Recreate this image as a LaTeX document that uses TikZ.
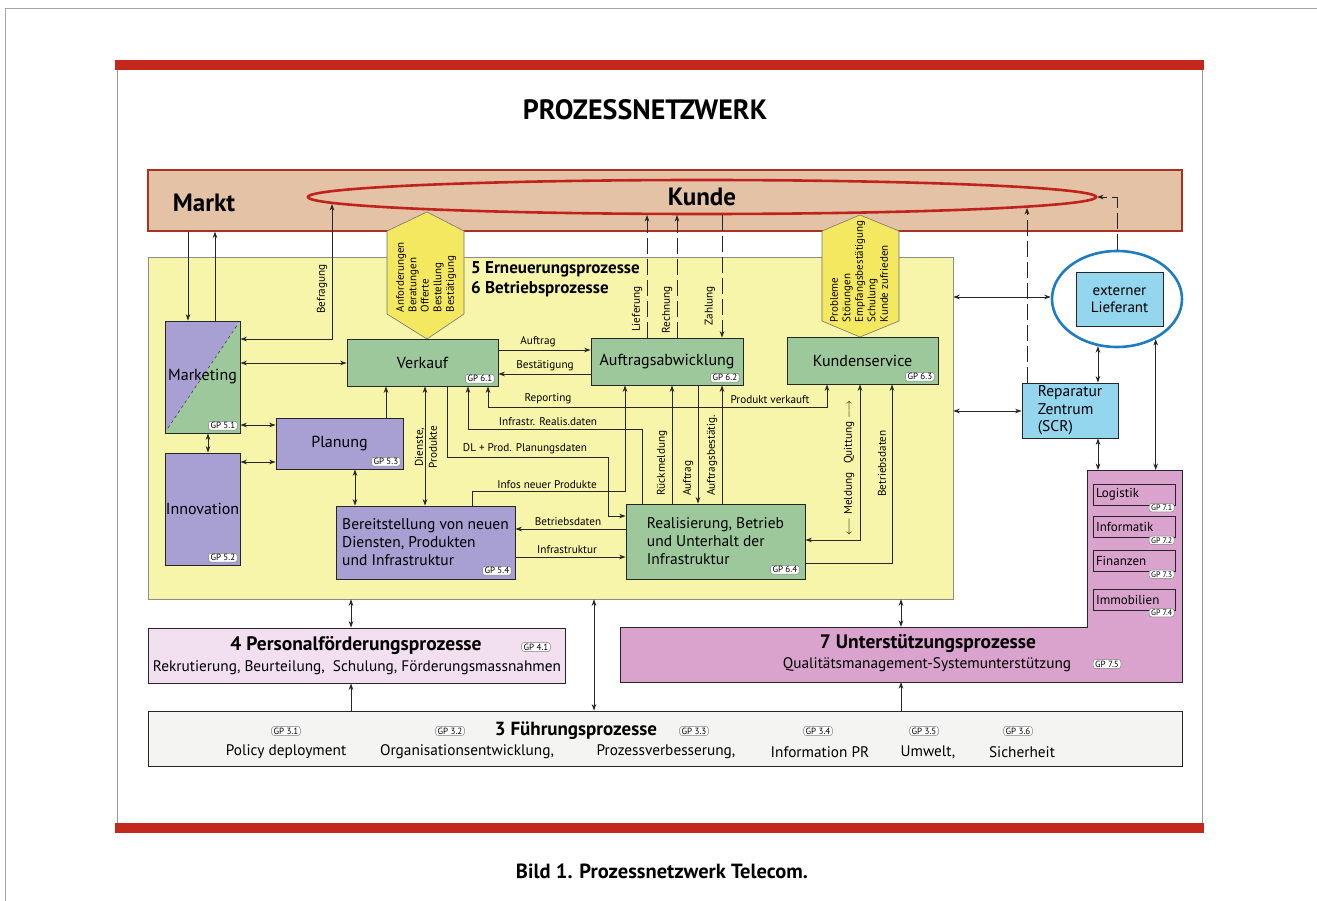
\documentclass[tikz,border=0pt]{standalone}
\usepackage{fontspec}
\setmainfont{PT Sans}
\usetikzlibrary{arrows.meta,shapes.geometric}
\definecolor{redbar}{HTML}{C4281C}
\definecolor{bandfill}{HTML}{E4C2A6}
\definecolor{bandline}{HTML}{A8321F}
\definecolor{ellred}{HTML}{C0231B}
\definecolor{yelfill}{HTML}{F7F5A9}
\definecolor{hexfill}{HTML}{F4E860}
\definecolor{grn}{HTML}{9DC89B}
\definecolor{pur}{HTML}{A8A0D3}
\definecolor{blu}{HTML}{93D6EE}
\definecolor{blring}{HTML}{1E7DC2}
\definecolor{pinkf}{HTML}{D9A3CD}
\definecolor{lpink}{HTML}{F2DFF0}
\definecolor{fgray}{HTML}{F4F4F2}
\newcommand\bxfont{\fontsize{16}{18.5}\selectfont}
\newcommand\lblfont{\fontsize{11.2}{13}\selectfont}
\newcommand\gpfont{\fontsize{9}{10}\selectfont}
\newcommand\hdfont{\bfseries\fontsize{19.5}{23}\selectfont}
\begin{document}
\begin{tikzpicture}[x=1pt,y=-1pt,
  boxline/.style={draw=black!85, line width=0.9pt},
  box/.style={boxline, inner sep=0pt, font=\bxfont, align=center},
  lbl/.style={font=\lblfont, inner sep=1pt},
  hextxt/.style={font=\fontsize{11}{12.5}\selectfont, inner sep=0.5pt, align=left},
  gp/.style={draw=black!50, fill=white, rounded corners=2.5pt, font=\gpfont, inner xsep=2pt, inner ysep=1.2pt, line width=0.5pt},
  ln/.style={draw=black!85, line width=0.75pt},
  arr/.style={ln, -{Stealth[length=6.5pt,width=4.6pt]}},
  darr/.style={ln, {Stealth[length=6.5pt,width=4.6pt]}-{Stealth[length=6.5pt,width=4.6pt]}},
  dsh/.style={dash pattern=on 16pt off 5pt},
  ]
\useasboundingbox (0,0) rectangle (1317,901);
\fill[white] (0,0) rectangle (1317,901);
\draw[black!35, line width=0.6pt] (5,901) -- (5,8) -- (1317,8);
\fill[redbar] (115,60) rectangle (1204,70);
\fill[redbar] (115,823) rectangle (1204,833);
\draw[black!40, line width=0.5pt] (117,70) -- (117,823) (1202,70) -- (1202,823);

\node[font=\bfseries\fontsize{28}{32}\selectfont] (title) at (645,110) {PROZESSNETZWERK};

% Markt / Kunde band
\node[draw=bandline, line width=1.2pt, fill=bandfill, minimum width=1034pt, minimum height=61pt, inner sep=0] (band) at (665,200.5) {};
\node[font=\bfseries\fontsize{25}{29}\selectfont] (markt) at (204,203) {Markt};

% yellow area
\node[draw=black!45, line width=0.6pt, fill=yelfill, minimum width=805pt, minimum height=342pt, inner sep=0] (yel) at (550.5,428) {};

% hexagons
\draw[draw=black!55, line width=0.6pt, fill=hexfill] (427,212) -- (464,231) -- (464,314) -- (427,339) -- (387,314) -- (387,231) -- cycle;
\draw[draw=black!55, line width=0.6pt, fill=hexfill] (860,215) -- (899,231) -- (899,321) -- (860,337) -- (822,321) -- (822,231) -- cycle;
\node[hextxt, rotate=90, anchor=west] (hex1t) at (426,313) {Anforderungen\\Beratungen\\Offerte\\Bestellung\\Bestätigung};
\node[hextxt, rotate=90, anchor=west] (hex2t) at (859,323) {Probleme\\Störungen\\Empfangsbestätigung\\Schulung\\Kunde zufrieden};

% Kunde ellipse
\node[draw=ellred, line width=2.6pt, ellipse, minimum width=788pt, minimum height=34pt, inner sep=0, font=\bfseries\fontsize{25}{29}\selectfont] (kunde) at (702,197) {Kunde};
\coordinate (kBef) at (332,204);
\coordinate (kLief) at (647,215);
\coordinate (kRech) at (677,215);
\coordinate (kZahl) at (722,215);
\coordinate (kRep) at (1027,208);
\coordinate (kTip) at (1097,197);

\node[font=\bfseries\fontsize{17}{19.5}\selectfont, align=left, anchor=west, inner sep=0] (prozT) at (471,279.5) {5 Erneuerungsprozesse\\6 Betriebsprozesse};

% Marketing (split)
\fill[pur] (165,321) -- (240,321) -- (165,433) -- cycle;
\fill[grn] (240,321) -- (240,433) -- (165,433) -- cycle;
\draw[black!75, dashed, line width=0.6pt] (168,428) -- (238,324);
\node[box, minimum width=75pt, minimum height=112pt] (mkt) at (202.5,377) {Marketing};
\node[box, fill=pur, minimum width=75pt, minimum height=112pt] (inno) at (202.5,509) {Innovation};
\node[box, fill=pur, minimum width=127pt, minimum height=51pt] (plan) at (339.5,443.5) {Planung};
\node[box, fill=grn, minimum width=151pt, minimum height=47pt] (verkauf) at (422.5,362.5) {Verkauf};
\node[box, fill=grn, minimum width=152pt, minimum height=47pt] (auftr) at (667,361.5) {Auftragsabwicklung};
\node[box, fill=grn, minimum width=151pt, minimum height=47pt] (ksv) at (862.5,360.5) {Kundenservice};
\node[box, fill=pur, minimum width=179pt, minimum height=73pt, align=left, font=\fontsize{15.5}{18}\selectfont] (bereit) at (425.5,542.5) {Bereitstellung von neuen\\Diensten, Produkten\\und Infrastruktur};
\node[box, fill=grn, minimum width=179pt, minimum height=75pt, align=left, font=\fontsize{15.5}{18}\selectfont] (real) at (715.5,541.5) {Realisierung, Betrieb\\und Unterhalt der\\Infrastruktur};

% right side
\node[box, fill=blu, minimum width=87pt, minimum height=54pt, font=\fontsize{15}{17}\selectfont] (lief) at (1119.5,299) {externer\\Lieferant};
\node[draw=blring, line width=2.6pt, ellipse, minimum width=130pt, minimum height=96pt, inner sep=0] (liefring) at (1117,299) {};
\node[box, fill=blu, minimum width=96pt, minimum height=55pt, align=left, font=\fontsize{15.5}{17.5}\selectfont] (rep) at (1070,410.5) {Reparatur\\Zentrum\\(SCR)};

% GP 7 L-shape
\draw[boxline, fill=pinkf] (620,627) -- (1087,627) -- (1087,470) -- (1182,470) -- (1182,682) -- (620,682) -- cycle;
\coordinate (gp7n) at (1134,470);
\node[minimum width=562pt, minimum height=55pt, inner sep=0] (unt) at (901,654.5) {};
\node[font=\hdfont] (untT) at (928,644) {7 Unterstützungsprozesse};
\node[font=\fontsize{15.3}{17}\selectfont] (untS) at (927,665) {Qualitätsmanagement-Systemunterstützung};
\node[gp] (gp75) at (1107,664) {GP 7.5};
\foreach \nm/\yy/\tx/\g in {logi/494.5/Logistik/7.1, info/527/Informatik/7.2, fin/561/Finanzen/7.3, immo/599.5/Immobilien/7.4}{
  \node[boxline, line width=0.8pt, minimum width=82pt, minimum height=21pt, text width=76pt, inner xsep=3pt, inner ysep=0pt, align=left, font=\fontsize{13}{15}\selectfont] (\nm) at (1134,\yy) {\tx};
  \node[gp, anchor=north east, font=\fontsize{8}{9}\selectfont] (\nm gp) at ([xshift=-1pt,yshift=2pt]\nm.south east) {GP \g};
}

% Personal
\node[boxline, fill=lpink, minimum width=417pt, minimum height=55pt, inner sep=0] (pers) at (356.5,655.5) {};
\node[font=\hdfont] (persT) at (356,646) {4 Personalförderungsprozesse};
\node[font=\fontsize{15.3}{17}\selectfont] (persS) at (357,668) {Rekrutierung, Beurteilung,\ \ Schulung, Förderungsmassnahmen};
\node[gp] (gp41) at (536,647) {GP 4.1};

% Fuehrung
\node[boxline, fill=fgray, minimum width=1034pt, minimum height=55pt, inner sep=0] (fuehr) at (665,738.5) {};
\node[font=\bfseries\fontsize{19}{23}\selectfont] (fuehrT) at (576,731) {3 Führungsprozesse};
\foreach \nm/\xx/\g in {f1/286/3.1, f2/450/3.2, f3/694/3.3, f4/818/3.4, f5/924/3.5, f6/1018/3.6}{
  \node[gp] (\nm gp) at (\xx,731) {GP \g};
}
\foreach \nm/\xx/\tx in {i1/286/Policy deployment, i2/467/{Organisationsentwicklung,}, i3/666/{Prozessverbesserung,}, i4/820/Information PR, i5/928/{Umwelt,}, i6/1022/Sicherheit}{
  \node[font=\fontsize{15.3}{17}\selectfont] (\nm) at (\xx,752) {\tx};
}

% GP tags inside boxes
\node[gp, anchor=south east] (gp51) at ([xshift=-3pt,yshift=3pt]mkt.south east) {GP 5.1};
\node[gp, anchor=south east] (gp52) at ([xshift=-3pt,yshift=3pt]inno.south east) {GP 5.2};
\node[gp, anchor=south east] (gp53) at ([xshift=-3pt,yshift=3pt]plan.south east) {GP 5.3};
\node[gp, anchor=south east] (gp54) at ([xshift=-4pt,yshift=4pt]bereit.south east) {GP 5.4};
\node[gp, anchor=south east] (gp61) at ([xshift=-4pt,yshift=3pt]verkauf.south east) {GP 6.1};
\node[gp, anchor=south east] (gp62) at ([xshift=-4pt,yshift=3pt]auftr.south east) {GP 6.2};
\node[gp, anchor=south east] (gp63) at ([xshift=-4pt,yshift=3pt]ksv.south east) {GP 6.3};
\node[gp, anchor=south east] (gp64) at ([xshift=-6pt,yshift=5pt]real.south east) {GP 6.4};

% ---------- connectors ----------
% Markt <-> Marketing
\draw[arr] (band.south -| 188,0) -- (mkt.north -| 188,0);
\draw[arr] (mkt.north -| 215,0) -- (band.south -| 215,0);
% Befragung
\draw[darr] (kBef) |- (mkt.east |- 0,339);
\node[lbl, rotate=90] (tBefr) at (322,289) {Befragung};
% Marketing links
\draw[darr] (mkt.east |- 0,363) -- (verkauf.west |- 0,363);
\draw[darr] (mkt.east |- 0,425) -- (plan.west |- 0,425);
\draw[darr] (inno.east |- 0,462) -- (plan.west |- 0,462);
\draw[darr] (mkt.south -| 208,0) -- (inno.north -| 208,0);
% Planung
\draw[arr] (plan.north -| 386,0) -- (verkauf.south -| 386,0);
\draw[darr] (plan.south -| 355,0) -- (bereit.north -| 355,0);
% Dienste, Produkte
\draw[darr] (verkauf.south -| 425,0) -- (bereit.north -| 425,0);
\node[lbl, rotate=90, align=center, font=\fontsize{11.2}{14}\selectfont] (tDP) at (426,447) {Dienste,\\Produkte};
% Verkauf <-> Auftragsabwicklung
\draw[arr] (verkauf.east |- 0,350) -- (auftr.west |- 0,350);
\node[lbl, anchor=south] (tAuf1) at (538,348) {Auftrag};
\draw[arr] (auftr.west |- 0,374) -- (verkauf.east |- 0,374);
\node[lbl, anchor=south] (tBest) at (545,372) {Bestätigung};
% Reporting / Produkt verkauft
\draw[darr] (verkauf.south -| 488,0) -- ++(0,21) -| (ksv.south -| 827,0);
\node[lbl, anchor=south] (tRep) at (548,405) {Reporting};
\node[lbl, anchor=south] (tPV) at (770,405) {Produkt verkauft};
% Infrastr. Realis.daten
\draw[arr] (real.north -| 642,0) |- (468,429) -- (verkauf.south -| 468,0);
\node[lbl, anchor=south] (tIRd) at (548,427) {Infrastr. Realis.daten};
% DL + Prod. Planungsdaten
\draw[arr] (verkauf.south -| 447,0) |- (608,457) |- (real.west |- 0,516);
\node[lbl, anchor=south] (tDL) at (525,455) {DL + Prod. Planungsdaten};
% Infos neuer Produkte
\draw[arr] (bereit.north -| 472,0) -- ++(0,-14) -| (auftr.south -| 625,0);
\node[lbl, anchor=south] (tInf) at (547,490) {Infos neuer Produkte};
% Auftragsabwicklung <-> Realisierung
\draw[arr] (real.north -| 672,0) -- (auftr.south -| 672,0);
\node[lbl, rotate=90, anchor=west] (tRM) at (662,497) {Rückmeldung};
\draw[arr] (auftr.south -| 698,0) -- (real.north -| 698,0);
\node[lbl, rotate=90, anchor=west] (tAuf2) at (688,497) {Auftrag};
\draw[arr] (real.north -| 722,0) -- (auftr.south -| 722,0);
\node[lbl, rotate=90, anchor=west] (tAB) at (712,497) {Auftragsbestätig.};
% Bereitstellung <-> Realisierung
\draw[arr] (real.west |- 0,529) -- (bereit.east |- 0,529);
\node[lbl, anchor=south] (tBd) at (568,527) {Betriebsdaten};
\draw[arr] (bereit.east |- 0,557) -- (real.west |- 0,557);
\node[lbl, anchor=south] (tIs) at (567,555) {Infrastruktur};
% Kundenservice <-> Realisierung
\draw[darr] (ksv.south -| 860,0) |- (real.east |- 0,540);
\node[lbl, rotate=90] (tMQ) at (849,468) {$\longleftarrow$ Meldung\hspace{9pt}Quittung $\longrightarrow$};
\draw[arr] (real.east |- 0,563) -| (ksv.south -| 892,0);
\node[lbl, rotate=90, anchor=west] (tBd2) at (882,498) {Betriebsdaten};
% Kunde dashed
\draw[arr, dsh] (auftr.north -| 647,0) -- (kLief);
\node[lbl, rotate=90, anchor=east] (tLief) at (637,285) {Lieferung};
\draw[arr, dsh] (auftr.north -| 677,0) -- (kRech);
\node[lbl, rotate=90, anchor=east] (tRech) at (667,285) {Rechnung};
\draw[arr, dsh] (kZahl) -- (auftr.north -| 722,0);
\node[lbl, rotate=90, anchor=east] (tZahl) at (710,285) {Zahlung};
% right side
\draw[darr] (yel.east |- 0,297) -- (liefring.west |- 0,297);
\draw[darr] (yel.east |- 0,411) -- (rep.west |- 0,411);
\draw[darr] (liefring.-112) -- (liefring.-112 |- rep.north);
\draw[arr, dsh] (rep.north -| 1027,0) -- (kRep);
\draw[arr, dsh] (liefring.north) |- (kTip);
\draw[darr] (rep.south -| 1098,0) -- (1098,0 |- gp7n);
\draw[darr] (liefring.-46) -- (liefring.-46 |- gp7n);
% bottom
\draw[darr] (yel.south -| 351,0) -- (pers.north -| 351,0);
\draw[arr] (fuehr.north -| 351,0) -- (pers.south -| 351,0);
\draw[darr] (yel.south -| 594,0) -- (fuehr.north -| 594,0);
\draw[darr] (yel.south -| 901,0) -- (unt.north -| 901,0);
\draw[arr] (fuehr.north -| 901,0) -- (unt.south -| 901,0);

\node[font=\bfseries\fontsize{20.5}{24}\selectfont] (cap) at (662,871) {Bild 1. Prozessnetzwerk Telecom.};
\end{tikzpicture}
\end{document}
